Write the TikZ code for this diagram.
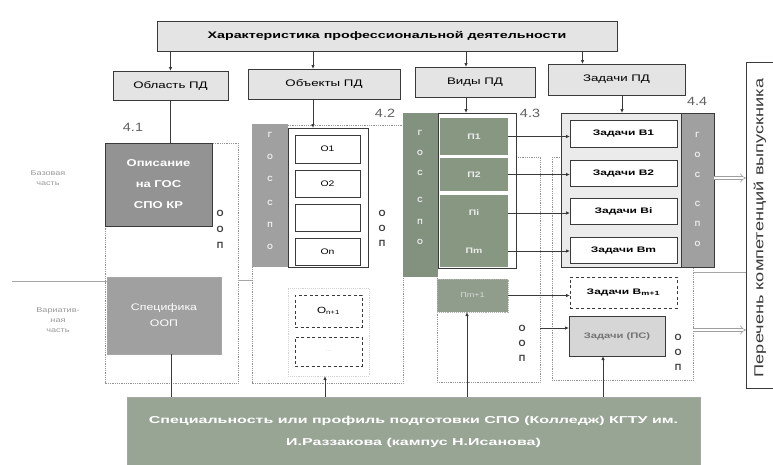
\documentclass[tikz,border=0pt]{standalone}
\usepackage{fontspec}
\setmainfont{Liberation Sans}
\usepackage{graphicx}
\usetikzlibrary{arrows.meta,calc}
\definecolor{lc}{HTML}{3A3A3A}
\definecolor{lightbox}{HTML}{E4E4E4}
\definecolor{darkbox}{HTML}{939393}
\definecolor{specbox}{HTML}{A0A0A0}
\definecolor{graystrip}{HTML}{A0A0A0}
\definecolor{grstrip}{HTML}{83927F}
\definecolor{grblock}{HTML}{879782}
\definecolor{pmbox}{HTML}{909C8C}
\definecolor{botbox}{HTML}{98A595}
\definecolor{c44fill}{HTML}{EBEBEB}
\definecolor{psfill}{HTML}{D6D6D6}
\newcommand\W[2][1.4]{\scalebox{#1}[1]{#2}}
\tikzset{
  bx/.style={anchor=north west, inner sep=0pt, outer sep=0pt, draw=lc, line width=0.9pt, align=center},
  lite/.style={bx, fill=lightbox, font=\fontsize{9.5}{10}\selectfont},
  dark/.style={bx, fill=darkbox, text=white, font=\bfseries\fontsize{10}{21}\selectfont},
  wbox/.style={bx, fill=white, font=\fontsize{8}{10}\selectfont},
  tbox/.style={bx, fill=white, font=\bfseries\fontsize{8}{10}\selectfont},
  gblock/.style={bx, draw=none, fill=grblock, text=white!85!gray, font=\bfseries\fontsize{8}{10}\selectfont},
  dashbox/.style={bx, dashed, dash pattern=on 3pt off 2.5pt, line width=1pt},
  dots/.style={draw=gray!85, densely dotted, line width=0.8pt},
  arr/.style={draw=lc, line width=0.8pt, -{Latex[length=4pt,width=3.5pt]}},
  ln/.style={draw=lc, line width=0.8pt},
  dbl/.style={draw=gray!75, double=white, double distance=2.5pt, line width=0.6pt, -{Implies}},
  sl/.style={font=\bfseries\fontsize{7.5}{8}\selectfont, text=white!90!gray},
  oop/.style={font=\bfseries\fontsize{9}{9}\selectfont, text=lc},
  num/.style={font=\fontsize{12}{12}\selectfont, text=lc!80},
  side/.style={font=\fontsize{7}{10}\selectfont, text=gray!80, align=center}
}
\begin{document}
\begin{tikzpicture}[x=1pt,y=-1pt]
\useasboundingbox (0,0) rectangle (773,464);
\fill[white] (0,0) rectangle (773,464);

% dotted outlines
\draw[dots] (105,143) rectangle (238,383);
\draw[dots] (252,125) rectangle (403,383);
\draw[dots] (437,157) rectangle (540,382);
\draw[dots] (552,157) rectangle (693,380);

% separator lines base / variative
\draw[gray!70, line width=0.6pt] (12,281) -- (107,281);
\draw[gray!70, line width=0.6pt] (238,280) -- (252,280);
\draw[gray!70, line width=0.6pt] (693,272) -- (746,272);

% side labels
\node[side] (base) at (48,178) {\W[1.3]{Базовая}\\\W[1.3]{часть}};
\node[side] (var) at (58,320) {\W[1.3]{Вариатив-}\\\W[1.3]{ная}\\\W[1.3]{часть}};

% top rows
\node[lite, minimum width=460pt, minimum height=30pt, font=\bfseries\fontsize{9.5}{10}\selectfont] (top) at (157,21) {\W[1.5]{Характеристика профессиональной деятельности}};
\node[lite, minimum width=115pt, minimum height=29pt] (obl) at (113,71) {\W{Область ПД}};
\node[lite, minimum width=152pt, minimum height=30pt] (obj) at (248,69) {\W{Объекты ПД}};
\node[lite, minimum width=120pt, minimum height=30pt] (vid) at (415,67) {\W{Виды ПД}};
\node[lite, minimum width=137pt, minimum height=31pt] (zad) at (548,64) {\W{Задачи ПД}};

% section numbers
\node[num] (n41) at (133,127) {\W[1.2]{4.1}};
\node[num] (n42) at (385,113) {\W[1.2]{4.2}};
\node[num] (n43) at (530,113) {\W[1.2]{4.3}};
\node[num] (n44) at (697,101) {\W[1.2]{4.4}};

% 4.1
\node[dark, minimum width=107pt, minimum height=83pt] (opis) at (105,143) {\W[1.3]{Описание}\\\W[1.3]{на ГОС}\\\W[1.3]{СПО КР}};
\node[dark, fill=specbox, draw=gray!70, font=\fontsize{9.5}{16}\selectfont, minimum width=114pt, minimum height=77pt] (spec) at (107,277) {\W[1.3]{Специфика}\\\W[1.3]{ООП}};
\node[oop] at (220,213) {О};
\node[oop] at (220,229) {О};
\node[oop] at (220,245) {П};

% 4.2
\node[bx, draw=none, fill=graystrip, minimum width=36pt, minimum height=143pt] (s42) at (252,124) {};
\foreach \y/\t in {135/Г,157/О,179/С,203/С,225/П,247/О} \node[sl] at (270,\y) {\t};
\node[wbox, minimum width=80pt, minimum height=139pt] (c42) at (288,128) {};
\node[wbox, minimum width=65pt, minimum height=28pt] (o1) at (295,135) {\W[1.3]{О1}};
\node[wbox, minimum width=65pt, minimum height=27pt] (o2) at (295,170) {\W[1.3]{О2}};
\node[wbox, minimum width=65pt, minimum height=27pt] (o3) at (295,204) {};
\node[wbox, minimum width=65pt, minimum height=27pt] (on) at (295,238) {\W[1.3]{Оn}};
\node[oop] at (382,213) {О};
\node[oop] at (382,228) {О};
\node[oop] at (382,243) {П};
\node[bx, draw=gray!35, densely dotted, line width=0.8pt, minimum width=81pt, minimum height=88pt] (onbox) at (288,288) {};
\node[dashbox, fill=white, font=\fontsize{9}{10}\selectfont, minimum width=67pt, minimum height=32pt] (onp1) at (295,295) {\W[1.3]{О\textsubscript{n+1}}};
\node[dashbox, fill=white, text=gray!35, font=\fontsize{7}{10}\selectfont, minimum width=67pt, minimum height=29pt] (ond) at (295,337) {...};

% 4.3
\node[bx, draw=none, fill=grstrip, minimum width=35pt, minimum height=164pt] (s43) at (403,113) {};
\foreach \y/\t in {133/Г,153/О,173/С,200/С,222/П,242/О} \node[sl] at (420,\y) {\t};
\node[wbox, minimum width=78pt, minimum height=155pt] (c43) at (438,113) {};
\node[gblock, minimum width=68pt, minimum height=37pt] (p1) at (440,118) {\W[1.3]{П1}};
\node[gblock, minimum width=68pt, minimum height=33pt] (p2) at (440,158) {\W[1.3]{П2}};
\node[gblock, minimum width=68pt, minimum height=72pt] (pim) at (440,195) {};
\node[font=\bfseries\fontsize{8}{10}\selectfont, text=white!85!gray] (pi) at (474,213) {\W[1.3]{Пi}};
\node[font=\bfseries\fontsize{8}{10}\selectfont, text=white!85!gray] (pm) at (474,251) {\W[1.3]{Пm}};
\node[gblock, fill=pmbox, draw=gray!60, densely dotted, minimum width=71pt, minimum height=33pt, text=white!70!gray, font=\fontsize{7}{10}\selectfont] (pm1) at (437,279) {\W[1.3]{Пm+1}};
\node[oop] at (522,328) {О};
\node[oop] at (522,343) {О};
\node[oop] at (522,358) {П};

% 4.4
\node[bx, fill=c44fill, minimum width=153pt, minimum height=154pt] (c44) at (561,113) {};
\node[bx, draw=lc, fill=graystrip, minimum width=33pt, minimum height=154pt] (s44) at (681,113) {};
\foreach \y/\t in {135/Г,155/О,175/С,204/С,224/П,244/О} \node[sl] at (697.5,\y) {\t};
\node[tbox, minimum width=107pt, minimum height=27pt] (b1) at (570,120) {\W[1.5]{Задачи В1}};
\node[tbox, minimum width=107pt, minimum height=26pt] (b2) at (570,160) {\W[1.5]{Задачи В2}};
\node[tbox, minimum width=107pt, minimum height=26pt] (bi) at (570,198) {\W[1.5]{Задачи Вi}};
\node[tbox, minimum width=107pt, minimum height=26pt] (bm) at (570,237) {\W[1.5]{Задачи Вm}};
\node[dashbox, fill=white, font=\bfseries\fontsize{8}{10}\selectfont, minimum width=107pt, minimum height=31pt] (bm1) at (570,277) {\W[1.5]{Задачи В\textsubscript{m+1}}};
\node[bx, fill=psfill, font=\bfseries\fontsize{8}{10}\selectfont, text=gray!90!black, minimum width=96pt, minimum height=40pt] (ps) at (569,316) {\W[1.4]{Задачи (ПС)}};
\node[oop] at (678,337) {О};
\node[oop] at (678,352) {О};
\node[oop] at (678,367) {П};

% right box
\node[bx, fill=white, minimum width=32pt, minimum height=326pt] (per) at (746,62) {};
\node[rotate=90, font=\fontsize{13}{13}\selectfont, text=lc] (pertxt) at (760,228) {\W[1.4]{Перечень компетенций выпускника}};

% bottom box
\node[bx, fill=botbox, draw=gray!70, text=white, font=\bfseries\fontsize{10}{22}\selectfont, minimum width=573pt, minimum height=70pt] (bot) at (127,397) {\W[1.6]{Специальность или профиль подготовки СПО (Колледж) КГТУ им.}\\\W[1.6]{И.Раззакова (кампус Н.Исанова)}};

% connectors from top
\draw[arr] (obl.north |- top.south) -- (obl.north);
\draw[arr] ([xshift=-11pt]obj.north |- top.south) -- ([xshift=-11pt]obj.north);
\draw[arr] ([xshift=-9pt]vid.north |- top.south) -- ([xshift=-9pt]vid.north);
\draw[arr] ([xshift=-34pt]zad.north |- top.south) -- ([xshift=-34pt]zad.north);

\draw[ln] (obl.south) -- (obl.south |- opis.north);
\draw[arr] ([xshift=-11pt]obj.south) -- ([xshift=-11pt]obj.south |- c42.north);
\draw[arr] ([xshift=-9pt]vid.south) -- ([xshift=-9pt]vid.south |- c43.north);
\draw[arr] ([xshift=5.5pt]zad.south) -- ([xshift=5.5pt]zad.south |- c44.north);

% P -> tasks
\draw[arr] (p1.east) -- (p1.east -| b1.west);
\draw[arr] (p2.east) -- (p2.east -| b2.west);
\draw[arr] (pi -| pim.east) -- (pi -| bi.west);
\draw[arr] (pm -| pim.east) -- (pm -| bm.west);
\draw[arr] (pm1.east) -- (pm1.east -| bm1.west);
\coordinate (o43r) at (540,328);
\draw[arr] (o43r) -- (o43r -| ps.west);

% bottom box connectors
\draw[ln] ([xshift=7pt]spec.south) -- ([xshift=7pt]spec.south |- bot.north);
\draw[arr] ([xshift=-3.5pt]onbox.south |- bot.north) -- ([xshift=-3.5pt]onbox.south);
\draw[arr] ([xshift=-5.5pt]pm1.south |- bot.north) -- ([xshift=-5.5pt]pm1.south);
\draw[arr] ([xshift=-14pt]ps.south |- bot.north) -- ([xshift=-14pt]ps.south);

% to competences
\draw[dbl] ([yshift=12pt]c44.east) -- ([yshift=12pt]c44.east -| per.west);
\coordinate (o44r) at (693,330);
\draw[dbl] (o44r) -- (o44r -| per.west);
\end{tikzpicture}
\end{document}
